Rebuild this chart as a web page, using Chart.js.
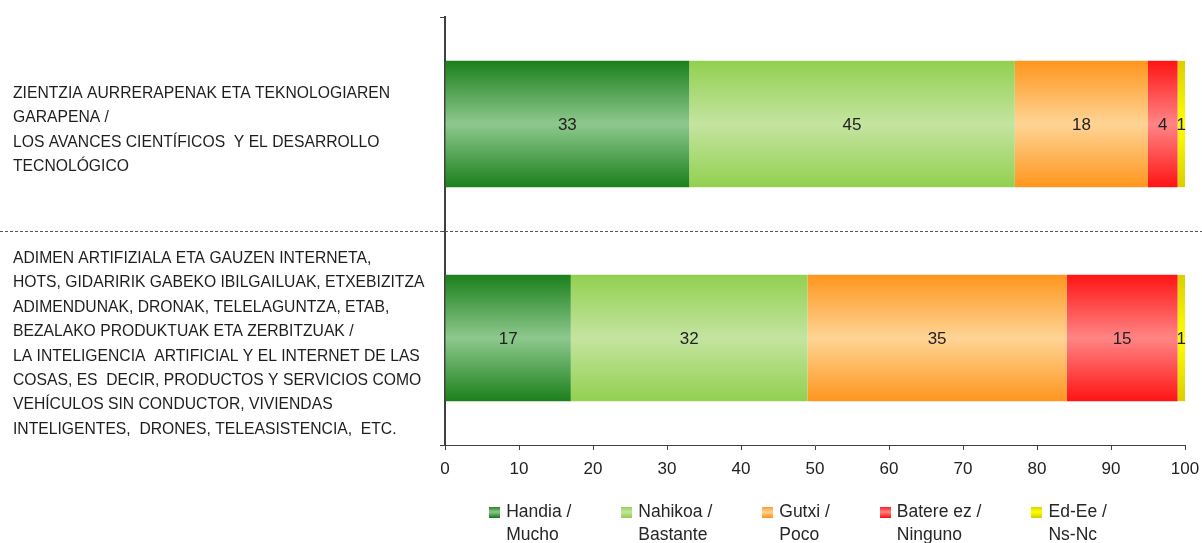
<!DOCTYPE html>
<html>
<head>
<meta charset="utf-8">
<script src="https://cdn.jsdelivr.net/npm/chart.js@4.4.1/dist/chart.umd.min.js"></script>
<style>
  html, body { margin: 0; padding: 0; background: #fff; }
  #wrap { width: 1202px; height: 543px; }
</style>
</head>
<body>
<div id="wrap"><canvas id="chart"></canvas></div>
<script>
// categories (one array of lines per bar)
const categories = [
    ['ZIENTZIA AURRERAPENAK ETA TEKNOLOGIAREN', 'GARAPENA /', 'LOS AVANCES CIENTÍFICOS  Y EL DESARROLLO', 'TECNOLÓGICO'],
    ['ADIMEN ARTIFIZIALA ETA GAUZEN INTERNETA,', 'HOTS, GIDARIRIK GABEKO IBILGAILUAK, ETXEBIZITZA', 'ADIMENDUNAK, DRONAK, TELELAGUNTZA, ETAB,',
     'BEZALAKO PRODUKTUAK ETA ZERBITZUAK /', 'LA INTELIGENCIA  ARTIFICIAL Y EL INTERNET DE LAS', 'COSAS, ES  DECIR, PRODUCTOS Y SERVICIOS COMO',
     'VEHÍCULOS SIN CONDUCTOR, VIVIENDAS', 'INTELIGENTES,  DRONES, TELEASISTENCIA,  ETC.']
];

const seriesNames = [['Handia /', 'Mucho'], ['Nahikoa /', 'Bastante'], ['Gutxi /', 'Poco'], ['Batere ez /', 'Ninguno'], ['Ed-Ee /', 'Ns-Nc']];

// segment lengths
const handia = [33, 17];
const nahikoa = [44, 32];
const gutxi = [18, 35];
const batere = [4, 15];
const edEe = [1, 1];

// numbers printed on the bars
const printedFirst = [33, 45, 18, 4, 1];
const printedSecond = [17, 32, 35, 15, 1];
const printed = [printedFirst, printedSecond];

const xTicksMax = 100;

const edgeColors = ['#1b801b', '#92d050', '#ff961e', '#ff1414', '#d9cf00'];
const midColors = ['#8ec88e', '#c4e4a0', '#fed495', '#ff8585', '#ffff00'];

const fontFam = "'Liberation Sans', Arial, sans-serif";
const BAR_PCT = 0.59;

function shade(ctx, top, bottom, edge, mid) {
    const g = ctx.createLinearGradient(0, top, 0, bottom);
    g.addColorStop(0, edge);
    g.addColorStop(0.5, mid);
    g.addColorStop(1, edge);
    return g;
}

function barFill(i) {
    return (c) => {
        const chart = c.chart;
        const y = chart.scales.y;
        if (c.type !== 'data' || !y || !chart.chartArea) return edgeColors[i];
        const band = y.height / categories.length;
        const center = y.getPixelForValue(c.dataIndex);
        const h = band * BAR_PCT;
        return shade(chart.ctx, center - h / 2, center + h / 2, edgeColors[i], midColors[i]);
    };
}

const values = [handia, nahikoa, gutxi, batere, edEe];

const extras = {
    id: 'extras',
    afterDatasetsDraw(chart) {
        const ctx = chart.ctx;
        ctx.save();
        ctx.font = `17px ${fontFam}`;
        ctx.fillStyle = '#222';
        ctx.textAlign = 'center';
        ctx.textBaseline = 'middle';
        chart.data.datasets.forEach((ds, di) => {
            chart.getDatasetMeta(di).data.forEach((el, i) => {
                ctx.fillText(String(printed[i][di]), (el.x + el.base) / 2, el.y + 1);
            });
        });
        ctx.restore();
    },
    afterDraw(chart) {
        const ctx = chart.ctx;
        const y = chart.scales.y;
        ctx.save();
        // dashed separator between the two groups
        const sep = Math.round((y.getPixelForValue(0) + y.getPixelForValue(1)) / 2) + 0.5;
        ctx.strokeStyle = '#555';
        ctx.lineWidth = 1;
        ctx.setLineDash([3, 2]);
        ctx.beginPath();
        ctx.moveTo(0, sep);
        ctx.lineTo(chart.width, sep);
        ctx.stroke();
        ctx.setLineDash([]);

        // legend with two-line labels
        ctx.font = `17.5px ${fontFam}`;
        ctx.textBaseline = 'middle';
        ctx.textAlign = 'left';
        const widths = seriesNames.map(l => Math.max(...l.map(t => ctx.measureText(t).width)));
        const gap = 50, box = 11, textOff = 17;
        const total = widths.reduce((a, w) => a + w + textOff, 0) + gap * (widths.length - 1);
        let x = 798 - total / 2;
        const row1 = 512, row2 = 535;
        seriesNames.forEach((lines, i) => {
            ctx.fillStyle = shade(ctx, row1 - box / 2, row1 + box / 2, edgeColors[i], midColors[i]);
            ctx.fillRect(Math.round(x), Math.round(row1 - box / 2), box, box);
            ctx.fillStyle = '#262626';
            ctx.fillText(lines[0], x + textOff, row1);
            ctx.fillText(lines[1], x + textOff, row2);
            x += textOff + widths[i] + gap;
        });
        ctx.restore();
    }
};

new Chart(document.getElementById('chart'), {
    type: 'bar',
    data: {
        labels: categories,
        datasets: values.map((v, i) => ({
            label: seriesNames[i].join(' '),
            data: v,
            backgroundColor: barFill(i),
            borderWidth: 0,
            categoryPercentage: 1,
            barPercentage: BAR_PCT
        }))
    },
    options: {
        indexAxis: 'y',
        responsive: true,
        maintainAspectRatio: false,
        animation: false,
        layout: { padding: { left: 13, top: 17, right: 17, bottom: 64 } },
        plugins: {
            legend: { display: false },
            tooltip: { enabled: false }
        },
        scales: {
            x: {
                stacked: true,
                min: 0,
                max: xTicksMax,
                ticks: { stepSize: 10, color: '#222', padding: 9, font: { family: fontFam, size: 17 } },
                grid: { drawOnChartArea: false, tickLength: 5, color: '#404040' },
                border: { color: '#404040', width: 1 },
                afterFit: s => { s.height = 34; s.paddingLeft = 0; s.paddingRight = 0; }
            },
            y: {
                stacked: true,
                ticks: {
                    crossAlign: 'far',
                    padding: 0,
                    labelOffset: 6,
                    color: '#1e1e1e',
                    autoSkip: false,
                    font: { family: fontFam, size: 15.7, lineHeight: 1.555 }
                },
                grid: { drawOnChartArea: false, offset: true, tickLength: 5, color: '#404040' },
                border: { color: '#404040', width: 2 },
                afterFit: s => { s.width = 445 - 13; s.paddingTop = 0; s.paddingBottom = 0; }
            }
        }
    },
    plugins: [extras]
});
</script>
</body>
</html>
